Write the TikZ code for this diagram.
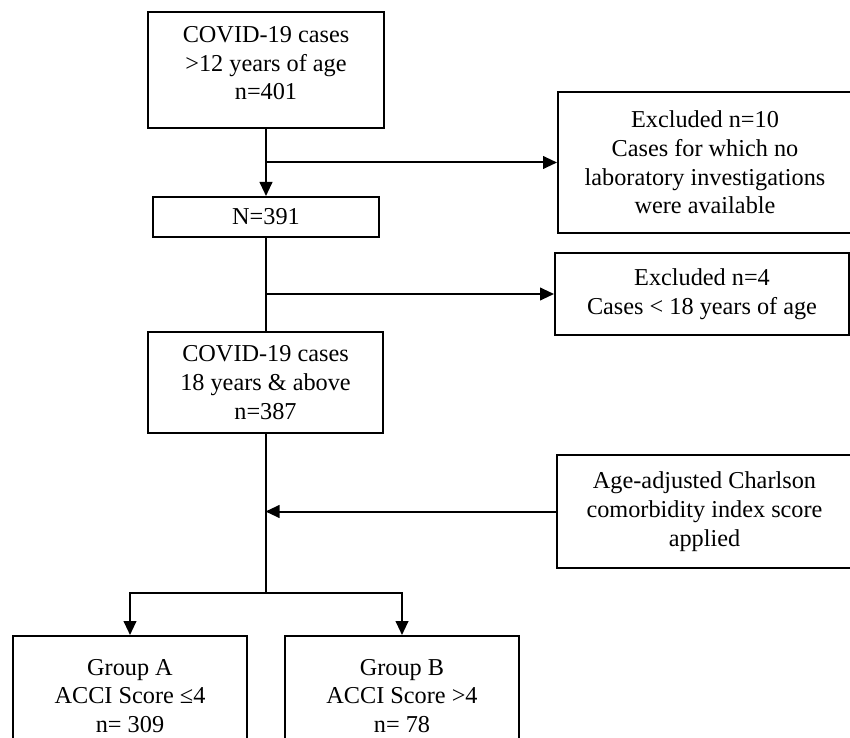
\documentclass[tikz,border=0pt]{standalone}
\usepackage{fontspec}
\setmainfont{Liberation Serif}
\usepackage{tikz}
\usetikzlibrary{arrows.meta,calc,positioning}

\begin{document}
\begin{tikzpicture}[x=0.75pt,y=0.75pt,yscale=-1,xscale=1,
  box/.style={draw,line width=1.5pt,align=center,inner sep=0.75pt,
    font=\fontsize{18.2}{21.5}\selectfont},
  link/.style={line width=1.5pt},
  arr/.style={line width=1.5pt,-{Triangle[length=10.5pt,width=9.5pt]}}]
  %set diagram size: 850 x 738
  \path[use as bounding box] (0,0) rectangle (850,738);

  %Shape: Rectangle [id:top]
  \node[box,minimum width=177pt,minimum height=87pt,text depth=10.5pt] (top) at (266,70)
    {COVID-19 cases\\>12 years of age\\n=401};
  %Shape: Rectangle [id:n391]
  \node[box,minimum width=169.5pt,minimum height=30pt] (n391) at (266,217) {N=391};
  %Shape: Rectangle [id:excl10]
  \node[box,minimum width=220.5pt,minimum height=106pt] (excl10) at (705,162.5)
    {Excluded n=10\\Cases for which no\\laboratory investigations\\were available};
  %Shape: Rectangle [id:excl4]
  \node[box,minimum width=220.5pt,minimum height=61.5pt] (excl4) at (702,294)
    {Excluded n=4\\Cases < 18 years of age};
  %Shape: Rectangle [id:n387]
  \node[box,minimum width=176pt,minimum height=76pt] (n387) at (265.5,382.5)
    {COVID-19 cases\\18 years \& above\\n=387};
  %Shape: Rectangle [id:acci]
  \node[box,minimum width=221pt,minimum height=85pt] (acci) at (704.5,511.5)
    {Age-adjusted Charlson\\comorbidity index score\\applied};
  %Shape: Rectangle [id:grpA]
  \node[box,minimum width=175.5pt,minimum height=90pt] (grpA) at (130,696)
    {Group A\\ACCI Score ≤4\\n= 309};
  %Shape: Rectangle [id:grpB]
  \node[box,minimum width=175.5pt,minimum height=90pt] (grpB) at (402,696)
    {Group B\\ACCI Score >4\\n= 78};

  %Straight Lines
  \draw[arr] (top.south) -- (n391.north);
  \draw[arr] (top.south |- excl10.west) -- (excl10.west);
  \draw[link] (n391.south) -- (n391.south |- n387.north);
  \draw[arr] (n391.south |- excl4.west) -- (excl4.west);
  \draw[arr] (acci.west) -- (acci.west -| n387.south);
  \coordinate (split) at (265.5,593);
  \draw[link] (n387.south) -- (split);
  \draw[arr] (split) -| (grpA.north);
  \draw[arr] (split) -| (grpB.north);

\end{tikzpicture}
\end{document}
